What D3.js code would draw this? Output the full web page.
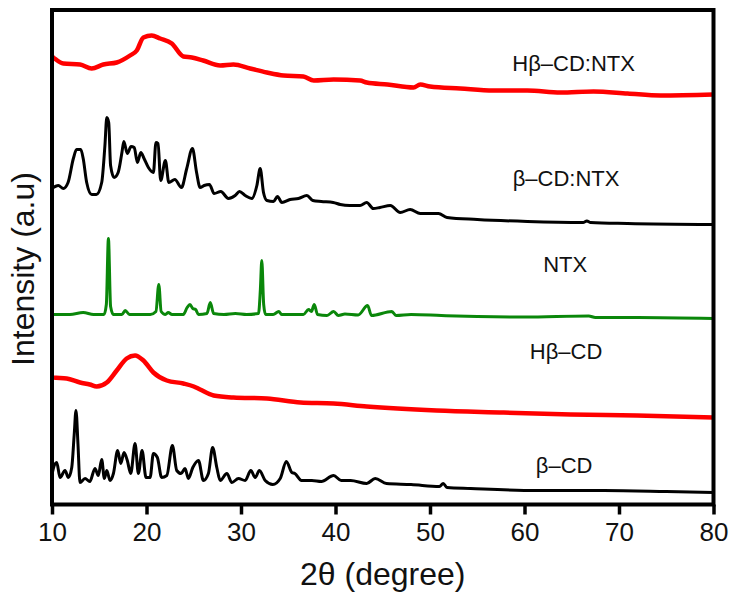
<!DOCTYPE html>
<html>
<head>
<meta charset="utf-8">
<script src="https://cdn.jsdelivr.net/npm/d3@7"></script>
<style>
    body { margin: 0; background: #fff; }
    .chart__text { font-family: 'Liberation Sans', Arial, sans-serif; fill: #111; }
</style>
</head>
<body>
<div class="chart"></div>
<script>
// series names, bottom to top as stacked in the figure
var names = ['β–CD', 'Hβ–CD', 'NTX', 'β–CD:NTX', 'Hβ–CD:NTX'];

var xTicks = [10, 20, 30, 40, 50, 60, 70, 80];

// [2θ (degree), intensity (a.u., stacked)]
var betaCD = [
    [10.0, 30], [10.14, 36], [10.5, 42], [10.85, 27], [11.38, 34], [11.73, 27], [12.09, 37], [12.35, 70],
    [12.54, 94], [12.75, 60], [12.96, 22], [13.5, 26], [14.0, 23], [14.55, 36], [14.9, 29], [15.26, 45],
    [15.54, 26], [15.8, 34], [16.14, 24], [16.5, 31], [16.95, 54], [17.28, 41], [17.62, 52], [17.97, 44],
    [18.33, 31], [18.79, 61], [19.14, 31], [19.53, 54], [19.95, 27], [20.38, 27], [20.73, 51], [21.15, 47],
    [21.6, 27], [22.15, 29], [22.74, 59], [23.2, 34], [23.66, 31], [24.08, 36], [24.43, 26], [24.9, 37],
    [25.5, 44], [26.02, 24], [26.55, 31], [27.0, 57], [27.44, 37], [27.8, 24], [28.5, 31], [29.03, 22],
    [29.73, 26], [30.44, 24], [31.04, 34], [31.5, 27], [31.95, 34], [32.56, 24], [33.37, 20], [34.15, 26],
    [34.8, 43], [35.38, 32], [35.7, 31], [36.4, 24], [37.5, 24], [38.5, 23], [39.8, 29], [40.6, 24],
    [41.6, 24], [43.3, 21], [44.2, 26], [45.4, 21], [48.0, 20], [51.0, 18], [51.4, 21], [51.8, 17],
    [54.3, 16], [61.3, 14], [68.4, 14], [75.0, 13], [80.0, 12]
];

var hBetaCD = [
    [10.0, 128], [10.14, 127], [11.55, 126], [12.97, 122], [14.0, 120], [14.73, 118], [15.8, 122],
    [16.85, 134], [17.9, 146], [18.79, 149], [19.67, 144], [20.73, 132], [22.15, 124], [23.9, 121],
    [25.0, 118], [25.67, 115], [27.1, 109], [29.2, 107], [32.74, 106], [36.3, 102], [39.8, 101],
    [43.3, 98], [50.7, 94], [57.8, 92], [64.9, 90], [71.9, 89], [80.0, 87]
];

var ntx = [
    [10.0, 190], [11.9, 190], [13.3, 192], [14.4, 190], [15.5, 190], [15.75, 200], [15.97, 266], [16.2, 198],
    [16.5, 190], [17.4, 190], [17.75, 194], [18.2, 190], [20.4, 190], [21.0, 193], [21.3, 220], [21.55, 193],
    [22.0, 190], [22.3, 192], [22.7, 190], [23.9, 190], [24.3, 197], [24.6, 200], [24.9, 196], [25.2, 195],
    [25.5, 190], [26.4, 191], [26.75, 202], [27.1, 191], [28.2, 190], [29.4, 191], [30.6, 190], [31.85, 191],
    [32.05, 215], [32.2, 244], [32.4, 200], [32.6, 190], [33.4, 190], [34.0, 193], [34.3, 190], [36.6, 190],
    [37.15, 195], [37.45, 193], [37.75, 200], [38.1, 190], [39.1, 189], [39.8, 193], [40.3, 189], [41.0, 190.5],
    [42.4, 189.5], [43.4, 199], [43.8, 189], [45.97, 193], [46.4, 189], [48.0, 190], [51.2, 189], [55.0, 188],
    [60.0, 187.5], [66.8, 188.5], [67.5, 187], [72.0, 187], [80.0, 186]
];

var betaCDNtx = [
    [10.0, 316], [10.67, 319], [11.2, 316], [11.7, 322], [12.26, 346], [12.6, 355], [13.04, 355], [13.3, 346],
    [13.67, 322], [14.2, 310], [14.7, 310], [15.26, 322], [15.6, 359], [15.8, 387], [16.0, 382], [16.2, 339],
    [16.57, 327], [17.0, 332], [17.4, 352], [17.6, 363], [17.97, 351], [18.37, 358], [18.7, 357], [19.04, 342],
    [19.4, 352], [19.74, 346], [20.2, 337], [20.73, 332], [21.0, 362], [21.22, 361], [21.5, 324], [22.0, 344],
    [22.36, 322], [23.0, 325], [23.7, 317], [24.26, 336], [24.86, 356], [25.3, 332], [25.67, 317], [26.1, 319],
    [26.66, 320], [27.16, 311], [27.86, 313], [28.67, 306], [29.38, 309], [29.84, 313], [30.44, 309], [31.15, 306],
    [31.68, 319], [32.03, 336], [32.38, 312], [32.74, 304], [33.44, 303], [33.86, 308], [34.33, 302], [35.2, 305],
    [36.08, 306], [36.97, 309], [37.6, 304], [38.5, 303], [39.76, 302], [40.5, 300], [41.5, 299], [42.6, 299],
    [43.3, 302], [44.0, 296], [44.7, 297], [45.8, 299], [46.85, 292], [47.9, 295], [48.97, 291], [50.9, 291],
    [51.8, 287], [55.0, 285], [60.3, 283], [66.2, 282], [66.6, 283.5], [67.0, 282], [70.9, 281], [80.0, 280]
];

var hBetaCDNtx = [
    [10.0, 448], [10.14, 447], [11.2, 441], [12.97, 440], [14.2, 436], [15.43, 440], [16.85, 442], [18.26, 449],
    [18.97, 454], [19.67, 467], [20.55, 469], [21.44, 466], [22.68, 461], [23.9, 448], [24.8, 447], [26.0, 444],
    [27.8, 439], [29.2, 440], [30.97, 436], [32.74, 432], [34.5, 429], [36.6, 428], [37.7, 424], [39.8, 425],
    [42.6, 424], [43.3, 422], [45.5, 420], [48.26, 417], [48.97, 420], [50.0, 418], [53.2, 416], [56.7, 414],
    [60.3, 414], [63.8, 412], [67.3, 413], [70.9, 411], [74.4, 409], [80.0, 410]
];

(function() {
    var options = {
        width: 735,
        height: 594,
        left: 52,
        right: 713.5,
        top: 10,
        bottom: 504.5
    };

    var series = [
        { name: names[0], values: betaCD, color: '#000', width: 3, label: [64.2, 32] },
        { name: names[1], values: hBetaCD, color: '#ff0000', width: 4.5, label: [64.4, 146] },
        { name: names[2], values: ntx, color: '#0a870a', width: 3, label: [64.3, 233] },
        { name: names[3], values: betaCDNtx, color: '#000', width: 3, label: [64.4, 319] },
        { name: names[4], values: hBetaCDNtx, color: '#ff0000', width: 4.5, label: [65.2, 434] }
    ];

    var svg = d3.select('.chart')
        .append('svg')
        .attr('width', options.width)
        .attr('height', options.height);

    var x = d3.scaleLinear()
        .domain([10, 80])
        .range([options.left, options.right]);

    var y = d3.scaleLinear()
        .domain([0, 494.5])
        .range([options.bottom, options.top]);

    var line = d3.line()
        .curve(d3.curveMonotoneX)
        .x(function(d) { return x(d[0]); })
        .y(function(d) { return y(d[1]); });

    series.forEach(function(s) {
        svg.append('path')
            .datum(s.values)
            .attr('fill', 'none')
            .attr('stroke', s.color)
            .attr('stroke-width', s.width)
            .attr('stroke-linejoin', 'round')
            .attr('d', line);

        svg.append('text')
            .classed('chart__text', true)
            .attr('text-anchor', 'middle')
            .attr('x', x(s.label[0]))
            .attr('y', y(s.label[1]))
            .style('font-size', '22px')
            .text(s.name);
    });

    var xAxis = svg.append('g')
        .attr('transform', 'translate(0, ' + options.bottom + ')')
        .call(d3.axisBottom(x).tickValues(xTicks).tickSize(10).tickPadding(8).tickFormat(d3.format('d')));

    xAxis.select('.domain').remove();
    xAxis.selectAll('.tick line').attr('stroke', '#000').attr('stroke-width', 3.5);
    xAxis.selectAll('.tick text')
        .classed('chart__text', true)
        .attr('fill', '#111')
        .style('font-size', '26px');

    svg.append('rect')
        .attr('x', options.left)
        .attr('y', options.top)
        .attr('width', options.right - options.left)
        .attr('height', options.bottom - options.top)
        .attr('fill', 'none')
        .attr('stroke', '#000')
        .attr('stroke-width', 4);

    svg.append('text')
        .classed('chart__text', true)
        .attr('text-anchor', 'middle')
        .attr('x', (options.left + options.right) / 2)
        .attr('y', 585)
        .style('font-size', '32px')
        .text('2θ (degree)');

    svg.append('text')
        .classed('chart__text', true)
        .attr('text-anchor', 'middle')
        .attr('transform', 'translate(33.5, 269) rotate(-90)')
        .style('font-size', '32px')
        .text('Intensity (a.u)');
})();
</script>
</body>
</html>
